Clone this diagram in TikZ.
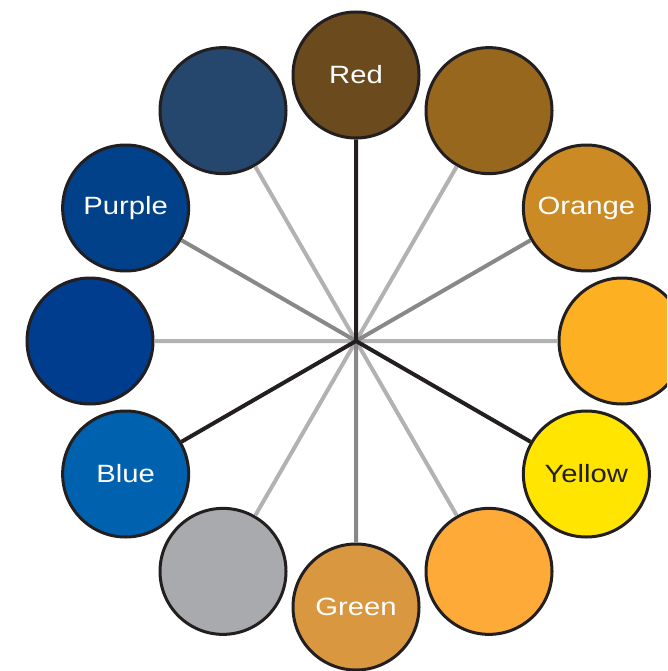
\documentclass[tikz,border=0pt]{standalone}
\usepackage{fontspec}
\usepackage{graphicx}
\usetikzlibrary{calc}
\setmainfont{Liberation Sans}
\definecolor{cRed}{HTML}{6B4A1E}
\definecolor{cRO}{HTML}{98671E}
\definecolor{cOrange}{HTML}{CC8A24}
\definecolor{cYO}{HTML}{FDB022}
\definecolor{cYellow}{HTML}{FFE500}
\definecolor{cYG}{HTML}{FDAA38}
\definecolor{cGreen}{HTML}{D99840}
\definecolor{cBG}{HTML}{A8AAAD}
\definecolor{cBlue}{HTML}{0061AF}
\definecolor{cBP}{HTML}{003D8F}
\definecolor{cPurple}{HTML}{00418A}
\definecolor{cRP}{HTML}{25466D}
\definecolor{ink}{HTML}{231F20}
\definecolor{midgray}{HTML}{888888}
\definecolor{lightgray}{HTML}{B2B2B2}
\tikzset{
  hue/.style={circle, draw=ink, line width=3pt, minimum size=126pt, inner sep=0pt,
    font=\fontsize{25}{30}\selectfont, text=white},
  spokeA/.style={draw=ink, line width=4pt},
  spokeB/.style={draw=midgray, line width=4pt},
  spokeC/.style={draw=lightgray, line width=4pt},
}
\newcommand{\wlab}[1]{\scalebox{1.17}[1]{#1}}
\begin{document}
\begin{tikzpicture}[x=1pt,y=-1pt]
\useasboundingbox (0,0) rectangle (667,671);
\clip (0,0) rectangle (667,671);
\coordinate (hub) at (356,341);
\node[hue, fill=cRed]    (red)    at ($(hub)+(90:266pt)$)  {\wlab{Red}};
\node[hue, fill=cRO]     (ro)     at ($(hub)+(60:266pt)$)  {};
\node[hue, fill=cOrange] (orange) at ($(hub)+(30:266pt)$)  {\wlab{Orange}};
\node[hue, fill=cYO]     (yo)     at ($(hub)+(0:266pt)$)   {};
\node[hue, fill=cYellow, text=ink] (yellow) at ($(hub)+(-30:266pt)$) {\wlab{Yellow}};
\node[hue, fill=cYG]     (yg)     at ($(hub)+(-60:266pt)$) {};
\node[hue, fill=cGreen]  (green)  at ($(hub)+(-90:266pt)$) {\wlab{Green}};
\node[hue, fill=cBG]     (bg)     at ($(hub)+(-120:266pt)$) {};
\node[hue, fill=cBlue]   (blue)   at ($(hub)+(-150:266pt)$) {\wlab{Blue}};
\node[hue, fill=cBP]     (bp)     at ($(hub)+(180:266pt)$) {};
\node[hue, fill=cPurple] (purple) at ($(hub)+(150:266pt)$) {\wlab{Purple}};
\node[hue, fill=cRP]     (rp)     at ($(hub)+(120:266pt)$) {};
\path[spokeC] (hub) -- (ro) (hub) -- (yo) (hub) -- (yg) (hub) -- (bg) (hub) -- (bp) (hub) -- (rp);
\path[spokeB] (hub) -- (orange) (hub) -- (green) (hub) -- (purple);
\path[spokeA, line join=miter] (red) -- (hub) -- (yellow) (hub) -- (blue);
\end{tikzpicture}
\end{document}
